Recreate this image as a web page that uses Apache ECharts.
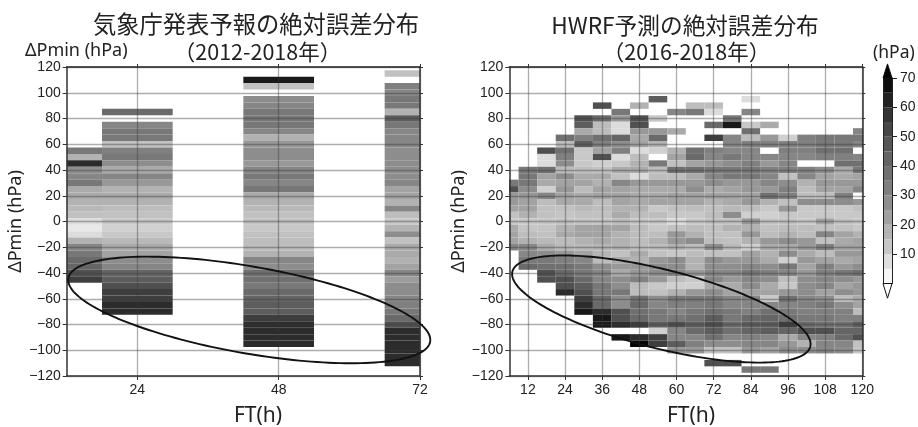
<!DOCTYPE html>
<html><head><meta charset="utf-8">
<style>html,body{margin:0;padding:0;background:#fff}#c{width:918px;height:427px;filter:blur(0.45px)}</style>
<script src="https://cdn.jsdelivr.net/npm/echarts@6/dist/echarts.min.js"></script>
</head><body><div id="c"></div>
<script>
// Each column: "pos" lists bins from its top bin down to 0 hPa, "neg" lists bins from -5 hPa downward. Bin step 5 hPa. 0 = no cell.
const jmaFT = [12, 24, 48, 72];
const jmaSpan = [[12,18],[18,30],[42,54],[66,72]];
const jmaPos = [
 [35,18,60,28,30,35,20,20,18,16,14,8],
 [40,0,30,35,35,14,32,35,28,20,30,25,18,20,18,15,14,12],
 [65,14,0,28,30,35,35,35,30,18,25,28,28,25,30,35,30,35,20,18,16,14,14],
 [14,0,32,30,35,35,18,45,35,30,30,30,28,28,28,28,28,30,22,22,18,30,15,12]
];
const jmaNeg = [
 [6,8,18,30,35,40,42,50,55],
 [10,12,16,20,22,28,30,42,45,50,55,55,60,60],
 [12,14,15,15,18,30,28,38,38,35,40,42,45,45,55,60,60,60,60],
 [18,28,14,20,20,18,22,30,24,28,28,30,32,35,40,50,60,60,60,60,60,60]
];
const hwrfFT = [6,12,18,24,30,36,42,48,54,60,66,72,78,84,90,96,102,108,114,120];
const hwrfPos = [
 [35,50,25,25,22,14,12],
 [35,35,35,28,25,22,22,18,12],
 [50,8,8,38,22,20,10,30,15,14,14,13],
 [38,15,38,32,28,15,28,22,25,22,20,14,13,14],
 [50,45,20,32,45,12,12,12,15,20,22,15,20,20,16,14,13],
 [50,0,40,15,15,38,32,22,50,10,14,20,18,22,22,15,15,14,13],
 [35,25,8,8,42,28,32,8,12,20,14,30,22,22,22,18,20,15],
 [18,0,50,50,25,20,22,8,15,18,20,8,25,20,20,20,18,15,12],
 [45,0,0,12,0,25,40,18,10,0,35,15,15,25,20,20,22,12,15,12],
 [30,0,0,20,0,0,18,22,14,38,15,25,20,22,22,14,12,8],
 [15,35,0,0,0,0,0,38,40,22,38,20,25,28,22,22,15,12,12],
 [15,8,0,40,0,55,0,32,30,25,35,30,28,20,22,18,14,15,14],
 [35,65,0,30,30,30,35,28,35,35,25,22,22,20,16,28,14],
 [8,0,30,0,12,38,15,32,30,30,32,35,35,25,25,22,25,15,10,25],
 [20,0,25,32,0,30,25,32,30,30,25,38,18,12,10,14],
 [10,32,32,30,30,32,14,28,32,32,14,25,12,14],
 [32,32,32,30,0,32,30,18,15,15,28,12,12,12],
 [35,35,38,32,0,28,22,25,22,15,28,12,12,22],
 [35,35,38,32,38,20,20,25,22,32,28,12,12,14],
 [30,35,30,0,30,38,35,22,25,30,0,25,14,12,12]
];
const hwrfNeg = [
 [20,22,22,30],
 [13,15,18,30,30,35,40],
 [13,14,16,20,28,35,38,50,50],
 [18,20,15,16,25,32,38,40,50,50,60],
 [22,22,18,16,22,30,35,35,40,45,50,55,60,65],
 [22,22,20,17,17,15,28,30,30,35,35,40,40,60,65,65],
 [22,18,18,18,14,20,25,20,28,28,35,28,28,50,50,60,0,65],
 [15,15,15,15,20,18,25,25,32,15,15,38,40,38,40,55,0,60,70],
 [12,15,18,15,14,25,28,28,25,12,14,28,30,35,35,45,10,55,55],
 [14,25,25,18,12,28,28,30,15,10,18,35,32,30,35,50,30,30,45,25],
 [15,18,28,15,15,18,18,25,12,10,25,35,32,35,38,45,40,30,32,25],
 [14,14,15,28,14,28,28,30,30,20,28,35,35,38,45,50,45,38,28,14,0,50],
 [18,14,14,16,14,25,28,30,25,20,22,30,30,35,35,40,38,30,28,14,0,50],
 [18,25,18,10,22,25,30,35,30,28,22,30,30,32,40,45,42,32,30,25,0,0,35],
 [14,15,25,20,18,20,28,32,28,20,22,12,30,38,42,45,45,30,30,22,0,0,35],
 [15,18,28,20,28,10,35,30,15,12,25,38,30,35,38,55,42,20,25,28],
 [15,15,25,25,20,25,22,25,28,28,28,30,32,32,35,40,50,30,18,28],
 [14,30,14,32,15,22,32,32,30,30,22,28,35,32,35,38,50,32,30,30],
 [14,22,20,22,25,20,25,35,28,22,28,15,28,32,32,38,42,40,30,28],
 [12,18,22,22,25,22,28,38,25,25,25,20,22,15,32,45,42,50,14,12]
];
const binStep = 5;
const colorLevels = [0,5,10,20,30,40,50,60,70];
const colorGreys = [255,238,208,170,134,106,80,44,5];
const colorbarTicks = [10,20,30,40,50,60,70];
const yTicks = [-120,-100,-80,-60,-40,-20,0,20,40,60,80,100,120];
const jmaTicks = [24,48,72];
const hwrfTicks = [12,24,36,48,60,72,84,96,108,120];
// Annotation ellipses in data units: centre FT, centre hPa, half width, half height, phase (rad)
const ellipseJma = [43, -68.7, 30.75, 41.4, 0.597];
const ellipseHwrf = [55.1, -68, 48.2, 41.6, 0.712];

const TXT = '#222';
const LABEL = 'Liberation Sans';
const CJK = '"Noto Sans CJK JP"';
const GRIDC = 'rgba(60,60,60,0.42)';

function grey(v){
  let i = 0;
  while (i < colorLevels.length - 2 && v > colorLevels[i+1]) i++;
  const t = Math.min(1,(v-colorLevels[i])/(colorLevels[i+1]-colorLevels[i]));
  const g = Math.round(colorGreys[i]+t*(colorGreys[i+1]-colorGreys[i]));
  return `rgb(${g},${g},${g})`;
}
function cells(spans,pos,neg){
  const out = [];
  spans.forEach((s,k)=>{
    const top = binStep*(pos[k].length-1);
    pos[k].forEach((v,i)=>{ if(v>0) out.push([s[0],s[1],top-i*binStep,v]); });
    neg[k].forEach((v,i)=>{ if(v>0) out.push([s[0],s[1],-binStep*(i+1),v]); });
  });
  return out;
}
function renderCell(params,api){
  const a = api.coord([api.value(0),api.value(2)+binStep/2]);
  const b = api.coord([api.value(1),api.value(2)-binStep/2]);
  return {type:'rect',shape:{x:a[0],y:a[1],width:b[0]-a[0],height:b[1]-a[1]},
    style:{fill:grey(api.value(3))}};
}
function renderEllipse(params,api){
  const [cx,cy,a,b,ph] = [0,1,2,3,4].map(i=>api.value(i));
  const pts = [];
  for(let i=0;i<=180;i++){
    const t = i/180*2*Math.PI;
    pts.push(api.coord([cx+a*Math.cos(t),cy-b*Math.sin(t+ph)]));
  }
  return {type:'polyline',shape:{points:pts},style:{fill:null,stroke:'#111',lineWidth:1.9}};
}
function renderBand(params,api){
  const a = api.coord([0,api.value(1)]);
  const b = api.coord([1,api.value(0)]);
  return {type:'rect',shape:{x:a[0],y:a[1],width:b[0]-a[0],height:b[1]-a[1]},
    style:{fill:grey(api.value(2))}};
}
function renderArrow(params,api){
  const s = api.value(0), e = api.value(1);
  const p = [api.coord([0,s]),api.coord([1,s]),api.coord([0.5,e])];
  return {type:'polygon',shape:{points:p},
    style:{fill:e>0?'#000':'#fff',stroke:'#111',lineWidth:1}};
}
const minus = v => String(v).replace('-','\u2212');
function yAxisMain(idx){
  return {gridIndex:idx,type:'value',min:-120,max:120,interval:10,position:'left',z:3,
    name:'\u0394Pmin (hPa)',nameLocation:'middle',nameRotate:90,nameGap:34,
    nameTextStyle:{fontFamily:'Noto Sans',fontSize:18,color:TXT},
    axisLine:{show:true,onZero:false,lineStyle:{color:'#333',width:1.5}},
    axisTick:{show:true,length:4,customValues:yTicks,lineStyle:{color:'#333'}},
    axisLabel:{customValues:yTicks,formatter:minus,margin:6,fontFamily:LABEL,fontSize:14,color:TXT},
    splitLine:{show:true,lineStyle:{color:GRIDC,width:1.3}}};
}
function yAxisMirror(idx){
  return {gridIndex:idx,type:'value',min:-120,max:120,interval:10,position:'right',z:3,
    axisLine:{show:true,onZero:false,lineStyle:{color:'#333',width:1.5}},
    axisTick:{show:true,length:3,customValues:yTicks,lineStyle:{color:'#333'}},
    axisLabel:{show:false},splitLine:{show:false}};
}
function xAxisMain(idx,min,max,ticks,step){
  return {gridIndex:idx,type:'value',min,max,interval:step,position:'bottom',z:3,
    axisLine:{show:true,onZero:false,lineStyle:{color:'#333',width:1.5}},
    axisTick:{show:true,length:4,customValues:ticks,lineStyle:{color:'#333'}},
    axisLabel:{customValues:ticks,margin:7,fontFamily:LABEL,fontSize:14,color:TXT},
    splitLine:{show:true,lineStyle:{color:GRIDC,width:1.3}}};
}
function xAxisMirror(idx,min,max,ticks,step){
  return {gridIndex:idx,type:'value',min,max,interval:step,position:'top',z:3,
    axisLine:{show:true,onZero:false,lineStyle:{color:'#222',width:1.5}},
    axisTick:{show:true,length:3,customValues:ticks,lineStyle:{color:'#333'}},
    axisLabel:{show:false},splitLine:{show:false}};
}
const titleStyle = s => ({fontFamily:CJK,fontSize:s,fontWeight:'normal',color:TXT});
const nameStyle = s => ({fontFamily:'Noto Sans',fontSize:s,fontWeight:'normal',color:TXT});
const chart = echarts.init(document.getElementById('c'),null,{renderer:'canvas'});
const bands = [];
for(let v=0;v<70;v+=binStep) bands.push([v,v+binStep,v+binStep/2]);
chart.setOption({
  animation:false,backgroundColor:'#fff',
  title:[
    {text:'気象庁発表予報の絶対誤差分布',left:251,top:8,textAlign:'center',textStyle:titleStyle(23.3)},
    {text:'（2012-2018年）',left:252.5,top:36,textAlign:'center',textStyle:titleStyle(21.5)},
    {text:'HWRF予測の絶対誤差分布',left:680,top:9,textAlign:'center',textStyle:titleStyle(22.7)},
    {text:'（2016-2018年）',left:681.5,top:36,textAlign:'center',textStyle:titleStyle(21.5)},
    {text:'\u0394Pmin (hPa)',left:20,top:37,textStyle:nameStyle(18)},
    {text:'(hPa)',left:868,top:39,textStyle:nameStyle(17.5)},
    {text:'FT(h)',left:253,top:401,textAlign:'center',textStyle:nameStyle(21)},
    {text:'FT(h)',left:686,top:401,textAlign:'center',textStyle:nameStyle(21)}
  ],
  grid:[
    {left:66.7,top:67,width:353.3,height:309,outerBoundsMode:'none'},
    {left:509.3,top:67,width:353,height:309,outerBoundsMode:'none'},
    {left:883,top:78,width:9,height:205.5,outerBoundsMode:'none'}
  ],
  xAxis:[
    xAxisMain(0,12,72,jmaTicks,12),xAxisMirror(0,12,72,jmaTicks,12),
    xAxisMain(1,6,120,hwrfTicks,6),xAxisMirror(1,6,120,hwrfTicks,6),
    {gridIndex:2,type:'value',min:0,max:1,show:false}
  ],
  yAxis:[
    yAxisMain(0),yAxisMirror(0),yAxisMain(1),yAxisMirror(1),
    {gridIndex:2,type:'value',min:0,max:70,interval:10,position:'right',z:3,
     axisLine:{show:true,onZero:false,lineStyle:{color:'#222',width:1}},
     axisTick:{show:true,length:5,customValues:colorbarTicks,lineStyle:{color:'#222'}},
     axisLabel:{customValues:colorbarTicks,margin:8,fontFamily:LABEL,fontSize:14,color:TXT},
     splitLine:{show:false}},
    {gridIndex:2,type:'value',min:0,max:70,position:'left',z:3,
     axisLine:{show:true,onZero:false,lineStyle:{color:'#222',width:1}},
     axisTick:{show:false},axisLabel:{show:false},splitLine:{show:false}}
  ],
  series:[
    {type:'custom',xAxisIndex:0,yAxisIndex:0,coordinateSystem:'cartesian2d',clip:true,z:2,
     renderItem:renderCell,data:cells(jmaSpan,jmaPos,jmaNeg),encode:{x:[0,1],y:2},silent:true},
    {type:'custom',xAxisIndex:2,yAxisIndex:2,coordinateSystem:'cartesian2d',clip:true,z:2,
     renderItem:renderCell,data:cells(hwrfFT.map(f=>[f-3,f+3]),hwrfPos,hwrfNeg),encode:{x:[0,1],y:2},silent:true},
    {type:'custom',xAxisIndex:0,yAxisIndex:0,coordinateSystem:'cartesian2d',clip:false,z:10,
     renderItem:renderEllipse,data:[ellipseJma],silent:true},
    {type:'custom',xAxisIndex:2,yAxisIndex:2,coordinateSystem:'cartesian2d',clip:false,z:10,
     renderItem:renderEllipse,data:[ellipseHwrf],silent:true},
    {type:'custom',xAxisIndex:4,yAxisIndex:4,coordinateSystem:'cartesian2d',z:2,
     renderItem:renderBand,data:bands,silent:true},
    {type:'custom',xAxisIndex:4,yAxisIndex:4,coordinateSystem:'cartesian2d',clip:false,z:4,
     renderItem:renderArrow,data:[[70,74.8],[0,-5]],silent:true}
  ]
});
</script></body></html>
